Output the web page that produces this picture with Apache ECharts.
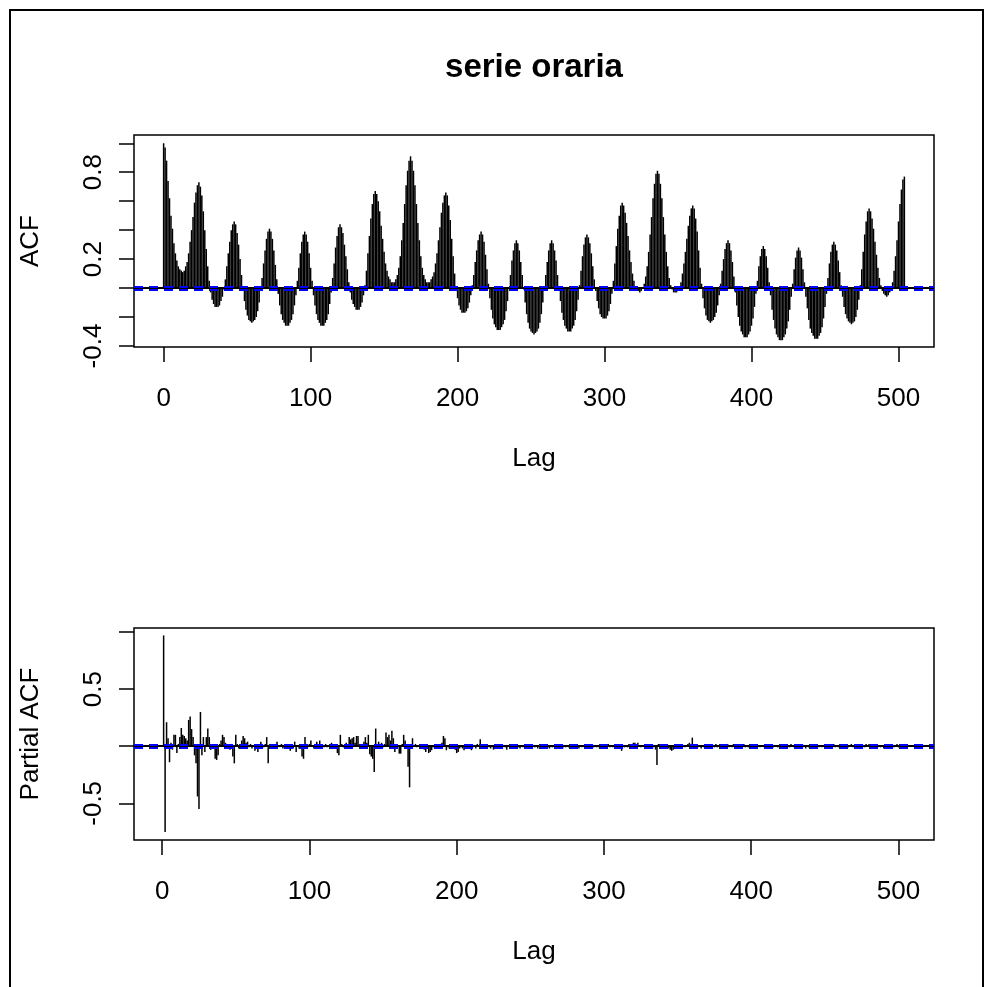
<!DOCTYPE html>
<html>
<head>
<meta charset="utf-8">
<title>serie oraria</title>
<script src="https://cdn.jsdelivr.net/npm/echarts@6/dist/echarts.min.js"></script>
<style>
  html, body { margin: 0; padding: 0; background: #fff; }
  #chart { width: 985px; height: 987px; }
</style>
</head>
<body>
<div id="chart"></div>
<script>
// ACF, lags 0..167 (one row per day of 24 lags)
var acfWeek1 = [
  1.00,0.97,0.88,0.74,0.62,0.50,0.41,0.31,0.24,0.19,0.15,0.13,0.12,0.11,0.12,0.15,0.18,0.24,0.32,0.40,0.49,0.59,0.66,0.71,
  0.73,0.70,0.64,0.53,0.40,0.27,0.15,0.05,-0.03,-0.08,-0.11,-0.13,-0.13,-0.13,-0.12,-0.09,-0.06,-0.01,0.06,0.15,0.24,0.32,0.40,0.44,
  0.46,0.44,0.38,0.30,0.20,0.09,-0.01,-0.09,-0.15,-0.19,-0.22,-0.23,-0.24,-0.23,-0.22,-0.20,-0.16,-0.10,-0.02,0.07,0.17,0.26,0.34,0.39,
  0.41,0.39,0.34,0.26,0.16,0.06,-0.04,-0.12,-0.18,-0.22,-0.24,-0.26,-0.26,-0.26,-0.24,-0.22,-0.18,-0.12,-0.05,0.05,0.14,0.24,0.32,0.37,
  0.39,0.37,0.32,0.24,0.14,0.05,-0.05,-0.12,-0.18,-0.22,-0.24,-0.26,-0.26,-0.26,-0.24,-0.22,-0.18,-0.11,-0.03,0.07,0.17,0.28,0.36,0.42,
  0.44,0.42,0.38,0.30,0.22,0.13,0.04,-0.03,-0.08,-0.11,-0.13,-0.15,-0.15,-0.15,-0.13,-0.10,-0.05,0.02,0.12,0.24,0.36,0.48,0.58,0.65,
  0.67,0.65,0.60,0.53,0.43,0.34,0.25,0.17,0.12,0.08,0.06,0.04,0.04,0.04,0.06,0.09,0.14,0.22,0.33,0.45,0.58,0.71,0.81,0.88
];
// ACF, lags 168..335
var acfWeek2 = [
  0.91,0.88,0.81,0.71,0.58,0.45,0.33,0.22,0.14,0.09,0.06,0.04,0.04,0.04,0.06,0.08,0.11,0.17,0.24,0.33,0.42,0.52,0.59,0.64,
  0.66,0.64,0.57,0.47,0.34,0.22,0.10,0.00,-0.07,-0.12,-0.15,-0.17,-0.17,-0.17,-0.16,-0.14,-0.10,-0.05,0.02,0.09,0.18,0.26,0.33,0.37,
  0.39,0.37,0.32,0.23,0.13,0.03,-0.07,-0.15,-0.21,-0.25,-0.27,-0.29,-0.29,-0.29,-0.27,-0.25,-0.22,-0.16,-0.09,0.00,0.09,0.19,0.26,0.31,
  0.33,0.31,0.26,0.18,0.09,-0.01,-0.10,-0.18,-0.24,-0.28,-0.30,-0.31,-0.32,-0.31,-0.30,-0.28,-0.24,-0.18,-0.10,-0.01,0.09,0.18,0.26,0.31,
  0.33,0.31,0.26,0.19,0.09,0.00,-0.09,-0.17,-0.22,-0.26,-0.28,-0.30,-0.30,-0.30,-0.28,-0.26,-0.22,-0.16,-0.08,0.02,0.12,0.22,0.30,0.35,
  0.37,0.35,0.31,0.24,0.15,0.06,-0.02,-0.09,-0.14,-0.18,-0.20,-0.21,-0.21,-0.21,-0.19,-0.16,-0.11,-0.04,0.05,0.17,0.29,0.41,0.50,0.57,
  0.59,0.57,0.52,0.45,0.36,0.26,0.18,0.10,0.05,0.01,-0.01,-0.02,-0.03,-0.02,0.00,0.03,0.08,0.15,0.25,0.37,0.49,0.62,0.72,0.79
];
// ACF, lags 336..504
var acfWeek3 = [
  0.81,0.79,0.72,0.62,0.49,0.37,0.25,0.15,0.07,0.02,-0.01,-0.03,-0.03,-0.03,-0.02,0.01,0.04,0.10,0.17,0.25,0.34,0.43,0.50,0.55,
  0.57,0.55,0.48,0.39,0.26,0.14,0.03,-0.07,-0.14,-0.19,-0.22,-0.23,-0.24,-0.23,-0.22,-0.20,-0.17,-0.12,-0.05,0.03,0.12,0.20,0.27,0.31,
  0.33,0.31,0.26,0.18,0.08,-0.03,-0.12,-0.20,-0.26,-0.30,-0.32,-0.34,-0.34,-0.34,-0.32,-0.30,-0.26,-0.21,-0.13,-0.04,0.05,0.15,0.22,0.27,
  0.29,0.27,0.22,0.14,0.04,-0.05,-0.15,-0.22,-0.28,-0.32,-0.34,-0.36,-0.36,-0.36,-0.34,-0.32,-0.28,-0.23,-0.15,-0.06,0.03,0.13,0.21,0.26,
  0.28,0.26,0.21,0.13,0.04,-0.06,-0.14,-0.22,-0.28,-0.31,-0.33,-0.35,-0.35,-0.35,-0.33,-0.31,-0.27,-0.21,-0.13,-0.04,0.07,0.17,0.25,0.30,
  0.32,0.30,0.26,0.19,0.11,0.02,-0.06,-0.13,-0.18,-0.21,-0.23,-0.24,-0.25,-0.24,-0.23,-0.20,-0.15,-0.08,0.02,0.13,0.25,0.37,0.46,0.53,
  0.55,0.53,0.48,0.41,0.32,0.23,0.14,0.07,0.02,-0.02,-0.04,-0.05,-0.06,-0.05,-0.03,-0.01,0.04,0.12,0.22,0.33,0.46,0.58,0.68,0.75,
  0.77
];

// partial ACF, lags 1..168
var pacfWeek1 = [
  0.97,-0.75,0.21,0.07,-0.14,0.03,-0.03,0.10,0.10,-0.06,0.02,0.08,0.16,0.10,0.09,0.07,0.05,0.23,0.26,0.15,0.08,-0.08,-0.15,-0.44,
  -0.55,0.30,-0.08,0.08,-0.05,0.08,0.155,0.08,-0.03,0.02,-0.02,-0.11,-0.12,-0.08,0.02,0.05,0.10,0.08,0.03,-0.02,0.01,-0.03,0.02,-0.09,
  -0.15,0.10,0.02,-0.02,0.01,0.05,0.09,0.07,0.03,0.04,-0.01,0.02,-0.02,0.01,-0.04,-0.02,-0.05,0.01,0.04,0.02,-0.01,0.02,0.08,-0.15,
  0.02,-0.01,0.01,-0.02,0.02,0.04,0.01,-0.01,0.02,-0.02,0.01,-0.01,0.02,-0.01,-0.04,0.01,-0.02,0.04,-0.05,0.01,-0.02,0.02,-0.09,-0.11,
  0.08,0.02,-0.01,0.02,0.05,0.01,-0.02,0.02,0.04,0.01,0.05,-0.02,0.01,-0.01,0.02,-0.01,0.01,-0.02,0.03,0.01,-0.01,0.02,-0.06,-0.08,
  0.10,0.02,-0.01,0.02,0.03,0.01,0.08,0.06,0.07,0.08,0.03,0.09,0.09,0.02,-0.01,0.02,0.04,0.08,0.03,0.10,-0.07,-0.09,-0.11,-0.225,
  0.155,0.02,0.04,0.01,0.03,-0.01,0.02,0.12,0.08,0.10,0.05,0.135,0.07,-0.05,-0.02,0.01,-0.065,-0.065,0.02,0.10,0.05,-0.02,-0.18,-0.36
];
// partial ACF, lags 169..336
var pacfWeek2 = [
  0.02,0.07,0.01,0.02,-0.01,0.01,-0.02,0.01,-0.02,-0.03,-0.05,-0.02,-0.06,-0.05,-0.035,-0.01,-0.02,-0.02,0.01,-0.01,0.02,0.03,0.09,0.07,
  -0.035,-0.01,-0.02,-0.02,0.01,-0.02,-0.03,-0.06,-0.05,-0.02,-0.01,-0.02,-0.035,0.01,-0.02,-0.01,0.01,-0.035,-0.01,0.01,-0.02,0.02,0.01,0.06,
  -0.01,0.01,-0.02,-0.01,0.01,-0.01,-0.02,-0.01,-0.03,0.01,-0.01,-0.02,0.01,-0.01,-0.02,0.01,-0.01,-0.03,0.01,-0.01,-0.02,0.01,-0.01,-0.02,
  0.01,-0.01,-0.02,0.01,-0.01,0.01,-0.02,-0.01,0.01,-0.01,-0.02,0.01,-0.01,0.01,-0.02,0.01,-0.01,-0.02,0.01,-0.01,0.01,-0.01,-0.02,0.01,
  -0.01,0.01,-0.02,-0.01,0.01,-0.01,0.01,-0.02,0.01,-0.01,0.01,-0.01,-0.02,0.01,-0.01,0.01,-0.01,0.01,-0.02,0.01,-0.01,0.01,-0.01,0.01,
  -0.01,0.01,-0.01,0.02,-0.01,0.01,-0.01,0.01,-0.02,0.01,-0.01,0.01,-0.01,0.01,0.02,-0.01,0.01,-0.01,0.01,-0.02,0.01,-0.01,0.01,-0.04,
  0.01,-0.01,0.01,-0.01,0.02,0.01,0.02,0.03,0.03,0.02,0.03,0.01,-0.01,0.01,0.01,0.02,0.02,0.01,-0.01,0.01,-0.02,0.01,-0.03,-0.165
];
// partial ACF, lags 337..504
var pacfWeek3 = [
  0.02,-0.01,0.01,-0.01,-0.02,0.01,-0.01,-0.02,-0.03,-0.04,-0.03,-0.02,0.01,-0.01,0.01,-0.01,0.02,0.01,-0.01,0.01,0.02,0.03,0.02,0.075,
  0.02,-0.01,0.01,-0.01,0.01,-0.02,0.01,-0.01,0.01,0.01,-0.01,0.01,-0.01,0.01,-0.01,0.02,-0.01,0.01,-0.01,0.01,-0.02,0.01,-0.01,0.02,
  -0.01,0.01,-0.01,0.02,-0.01,0.01,-0.02,0.01,-0.01,0.01,0.02,-0.01,0.01,-0.01,0.01,-0.01,0.01,-0.02,0.01,-0.01,0.01,-0.01,0.01,0.01,
  -0.01,0.01,-0.01,0.01,-0.02,0.01,-0.01,0.01,0.01,-0.01,0.01,-0.01,0.02,-0.01,0.01,-0.01,0.01,-0.01,0.02,0.01,-0.01,0.01,-0.01,0.01,
  -0.01,0.01,-0.01,0.01,-0.02,0.01,-0.01,0.01,0.01,-0.01,0.02,-0.01,0.01,-0.01,0.01,-0.01,0.01,-0.02,0.01,-0.01,0.02,0.01,-0.01,0.02,
  -0.01,0.01,-0.01,0.01,-0.01,0.01,0.02,-0.01,0.01,-0.01,0.01,0.02,-0.01,0.01,-0.01,0.01,-0.01,0.01,0.02,0.01,-0.01,0.02,0.01,0.02,
  -0.01,0.01,-0.01,0.01,0.02,-0.01,0.01,-0.01,0.01,-0.02,0.01,-0.01,0.02,0.01,-0.01,0.01,-0.01,0.01,0.02,-0.01,0.01,-0.01,0.01,0.02
];

var lagTicks = [0, 100, 200, 300, 400, 500];
var acfTicks = [-0.4, -0.2, 0, 0.2, 0.4, 0.6, 0.8, 1.0];
var acfTickLabels = [-0.4, 0.2, 0.8];
var pacfTicks = [-0.5, 0, 0.5, 1.0];
var pacfTickLabels = [-0.5, 0.5];
var ciBound = 0.011;

var acf = acfWeek1.concat(acfWeek2, acfWeek3);
var pacf = pacfWeek1.concat(pacfWeek2, pacfWeek3);

var acfData = acf.map(function (v, i) { return [i, v]; });
var pacfData = pacf.map(function (v, i) { return [i + 1, v]; });

var FONT = '"Liberation Sans", Arial, Helvetica, sans-serif';

function stickItem(params, api) {
  var base = api.coord([api.value(0), 0]);
  var tip = api.coord([api.value(0), api.value(1)]);
  return {
    type: 'line',
    shape: { x1: base[0], y1: base[1], x2: tip[0], y2: tip[1] },
    style: { stroke: '#000', lineWidth: 1.5 }
  };
}

function refLines() {
  return {
    silent: true,
    animation: false,
    symbol: ['none', 'none'],
    label: { show: false },
    data: [
      { yAxis: 0, lineStyle: { color: '#000', type: 'solid', width: 2 } },
      { yAxis: ciBound, lineStyle: { color: '#0000ff', type: [9, 6], width: 2 } },
      { yAxis: -ciBound, lineStyle: { color: '#0000ff', type: [9, 6], width: 2 } }
    ]
  };
}

function lagAxis(gridIndex, min, max) {
  return {
    type: 'value',
    gridIndex: gridIndex,
    min: min,
    max: max,
    name: 'Lag',
    nameLocation: 'middle',
    nameGap: 99,
    nameTextStyle: { fontFamily: FONT, fontSize: 26, color: '#000' },
    axisLine: { show: false, onZero: false },
    splitLine: { show: false },
    axisTick: { show: true, length: 15, customValues: lagTicks, lineStyle: { color: '#000', width: 1.5 } },
    axisLabel: { show: true, customValues: lagTicks, margin: 39, fontFamily: FONT, fontSize: 26, color: '#000' }
  };
}

function valueAxis(gridIndex, name, min, max, ticks, labels) {
  return {
    type: 'value',
    gridIndex: gridIndex,
    min: min,
    max: max,
    name: name,
    nameLocation: 'middle',
    nameRotate: 90,
    nameGap: 90,
    nameTextStyle: { fontFamily: FONT, fontSize: 26, color: '#000' },
    axisLine: { show: false, onZero: false },
    splitLine: { show: false },
    axisTick: { show: true, length: 15, customValues: ticks, lineStyle: { color: '#000', width: 1.5 } },
    axisLabel: { show: true, customValues: labels, rotate: 90, margin: 27, fontFamily: FONT, fontSize: 26, color: '#000' }
  };
}

var chart = echarts.init(document.getElementById('chart'), null, { renderer: 'canvas' });

chart.setOption({
  backgroundColor: '#fff',
  animation: false,
  title: {
    text: 'serie oraria',
    left: 529,
    top: 46,
    textAlign: 'center',
    textStyle: { fontFamily: FONT, fontSize: 33, fontWeight: 'bold', color: '#000' }
  },
  graphic: [{
    type: 'rect',
    shape: { x: 10, y: 10, width: 973, height: 995 },
    style: { fill: 'none', stroke: '#000', lineWidth: 2 },
    silent: true
  }],
  grid: [
    { left: 134, top: 135, width: 800, height: 212, show: true, borderColor: '#000', borderWidth: 1.5, backgroundColor: 'transparent' },
    { left: 134, top: 628, width: 800, height: 212, show: true, borderColor: '#000', borderWidth: 1.5, backgroundColor: 'transparent' }
  ],
  xAxis: [
    lagAxis(0, -20.16, 524.16),
    lagAxis(1, -19.12, 524.12)
  ],
  yAxis: [
    valueAxis(0, 'ACF', -0.407, 1.057, acfTicks, acfTickLabels),
    valueAxis(1, 'Partial ACF', -0.821, 1.035, pacfTicks, pacfTickLabels)
  ],
  series: [
    {
      name: 'ACF',
      type: 'custom',
      xAxisIndex: 0,
      yAxisIndex: 0,
      renderItem: stickItem,
      encode: { x: 0, y: 1 },
      data: acfData,
      markLine: refLines()
    },
    {
      name: 'Partial ACF',
      type: 'custom',
      xAxisIndex: 1,
      yAxisIndex: 1,
      renderItem: stickItem,
      encode: { x: 0, y: 1 },
      data: pacfData,
      markLine: refLines()
    }
  ]
});
</script>
</body>
</html>
